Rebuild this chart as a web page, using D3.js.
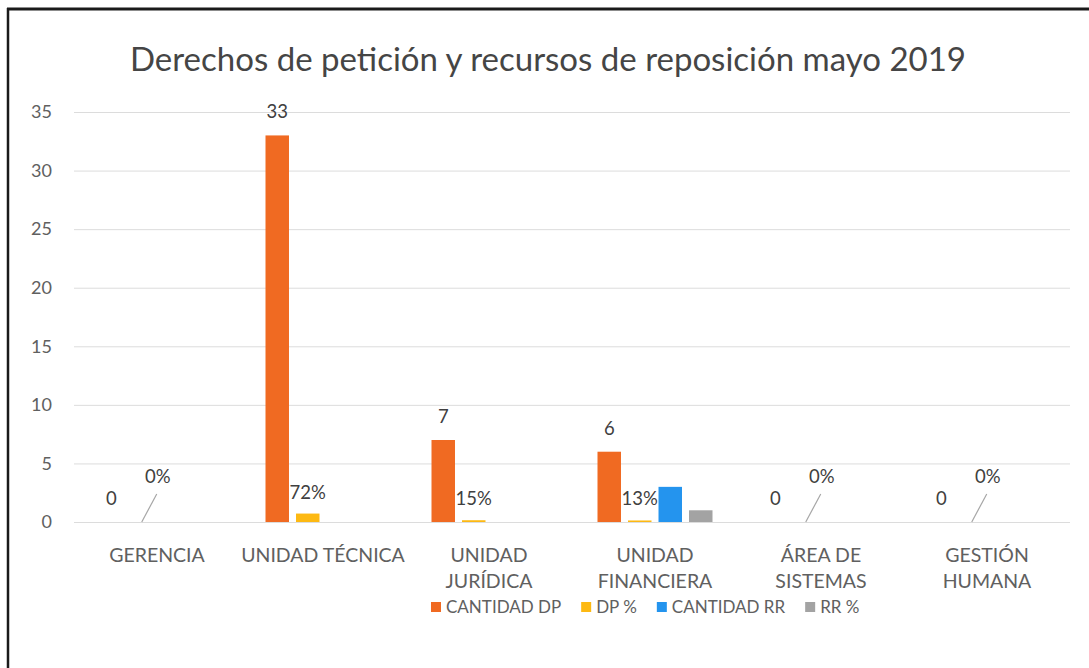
<!DOCTYPE html>
<html>
<head>
<meta charset="utf-8">
<script src="https://cdn.jsdelivr.net/npm/d3@7"></script>
<style>
  body { margin: 0; background: #fff; }
  svg { display: block; font-family: Lato, "Open Sans", sans-serif; }
</style>
</head>
<body>
<div id="chart"></div>
<script>
// Datos del gráfico
const categories = ['GERENCIA', 'UNIDAD TÉCNICA', 'UNIDAD JURÍDICA', 'UNIDAD FINANCIERA', 'ÁREA DE SISTEMAS', 'GESTIÓN HUMANA'];
const categoryLines = [['GERENCIA'], ['UNIDAD TÉCNICA'], ['UNIDAD', 'JURÍDICA'], ['UNIDAD', 'FINANCIERA'], ['ÁREA DE', 'SISTEMAS'], ['GESTIÓN', 'HUMANA']];
const seriesNames = ['CANTIDAD DP', 'DP %', 'CANTIDAD RR', 'RR %'];
const cantidadDP = [0, 33, 7, 6, 0, 0];
const dpPct = [0, 0.72, 0.15, 0.13, 0, 0];
const cantidadRR = [0, 0, 0, 3, 0, 0];
const rrPct = [0, 0, 0, 1, 0, 0];
const yTicks = [0, 5, 10, 15, 20, 25, 30, 35];
const colors = ['#F06A22', '#FDB913', '#2494EE', '#A3A3A3'];

const W = 1089, H = 668;
const plot = { left: 74, right: 1070, top: 112, bottom: 522 };
const textColor = '#606060';

const svg = d3.select('#chart').append('svg')
    .attr('width', W)
    .attr('height', H);

// Marco escaneado
svg.append('line').attr('x1', 7).attr('x2', W).attr('y1', 9).attr('y2', 9)
    .attr('stroke', '#1a1a1a').attr('stroke-width', 3);
svg.append('line').attr('x1', 8).attr('x2', 8).attr('y1', 8).attr('y2', H)
    .attr('stroke', '#1a1a1a').attr('stroke-width', 2.5);

// Título
svg.append('text')
    .attr('x', 548)
    .attr('y', 71)
    .attr('text-anchor', 'middle')
    .attr('fill', '#454545')
    .style('font-size', '33px')
    .text('Derechos de petición y recursos de reposición mayo 2019');

const y = d3.scaleLinear().domain([0, 35]).range([plot.bottom, plot.top]);
const x0 = d3.scaleBand().domain(categories).range([plot.left, plot.right]);
const groupWidth = 115;
const x1 = d3.scaleBand().domain(seriesNames).range([0, groupWidth]).paddingInner(0.23);
const groupLeft = c => x0(c) + x0.bandwidth() / 2 - groupWidth / 2;

// Rejilla
svg.append('g').selectAll('line')
    .data(yTicks)
    .join('line')
    .attr('x1', plot.left)
    .attr('x2', plot.right)
    .attr('y1', d => y(d) + 0.5)
    .attr('y2', d => y(d) + 0.5)
    .attr('stroke', '#dcdcdc')
    .attr('stroke-width', 1);

// Eje Y
const yAxis = svg.append('g')
    .attr('transform', `translate(52,0)`)
    .call(d3.axisLeft(y).tickValues(yTicks).tickSize(0).tickPadding(0));
yAxis.select('.domain').remove();
yAxis.selectAll('text')
    .attr('fill', textColor)
    .style('font-size', '18px')
    .style('font-family', 'Lato, sans-serif');

// Etiquetas de categoría
const catLabels = svg.append('g').selectAll('text')
    .data(categories)
    .join('text')
    .attr('text-anchor', 'middle')
    .attr('fill', textColor)
    .style('font-size', '19.5px');
catLabels.each(function (c, i) {
    const t = d3.select(this);
    const cx = x0(c) + x0.bandwidth() / 2;
    categoryLines[i].forEach((line, k) => {
        t.append('tspan')
            .attr('x', cx)
            .attr('y', 562 + k * 26)
            .text(line);
    });
});

// Barras
const series = [cantidadDP, dpPct, cantidadRR, rrPct];
const rows = [];
categories.forEach((c, i) => {
    seriesNames.forEach((s, k) => {
        rows.push({ cat: c, series: s, value: series[k][i], k });
    });
});

svg.append('g').selectAll('rect')
    .data(rows.filter(d => d.value > 0))
    .join('rect')
    .attr('x', d => groupLeft(d.cat) + x1(d.series))
    .attr('y', d => y(d.value))
    .attr('width', x1.bandwidth())
    .attr('height', d => y(0) - y(d.value))
    .attr('fill', d => colors[d.k]);

// Etiquetas de CANTIDAD DP
svg.append('g').selectAll('text')
    .data(categories)
    .join('text')
    .attr('x', c => groupLeft(c) + x1('CANTIDAD DP') + x1.bandwidth() / 2)
    .attr('y', (c, i) => y(cantidadDP[i]) - 17)
    .attr('text-anchor', 'middle')
    .attr('fill', '#404040')
    .style('font-size', '18.5px')
    .text((c, i) => cantidadDP[i]);

// Etiquetas de DP %
const pctFmt = d3.format('.0%');
const pctRows = categories.map((c, i) => ({
    cx: groupLeft(c) + x1('DP %') + x1.bandwidth() / 2,
    value: dpPct[i]
}));

const pctG = svg.append('g');
pctG.selectAll('line')
    .data(pctRows.filter(d => d.value === 0))
    .join('line')
    .attr('x1', d => d.cx)
    .attr('y1', y(0))
    .attr('x2', d => d.cx + 15)
    .attr('y2', y(0) - 28)
    .attr('stroke', '#a6a6a6')
    .attr('stroke-width', 1.2);

pctG.selectAll('text')
    .data(pctRows)
    .join('text')
    .attr('x', d => d.value === 0 ? d.cx + 16 : d.cx)
    .attr('y', d => d.value === 0 ? y(0) - 39 : y(d.value) - 15)
    .attr('text-anchor', 'middle')
    .attr('fill', '#404040')
    .style('font-size', '18.5px')
    .text(d => pctFmt(d.value));

// Leyenda
const legend = svg.append('g').attr('transform', 'translate(0,607)');
let lx = 431;
seriesNames.forEach((s, k) => {
    legend.append('rect')
        .attr('x', lx)
        .attr('y', -5)
        .attr('width', 10)
        .attr('height', 10)
        .attr('fill', colors[k]);
    const t = legend.append('text')
        .attr('x', lx + 15)
        .attr('y', 6)
        .attr('fill', textColor)
        .style('font-size', '17px')
        .text(s);
    lx += 15 + t.node().getComputedTextLength() + 20;
});
</script>
</body>
</html>
